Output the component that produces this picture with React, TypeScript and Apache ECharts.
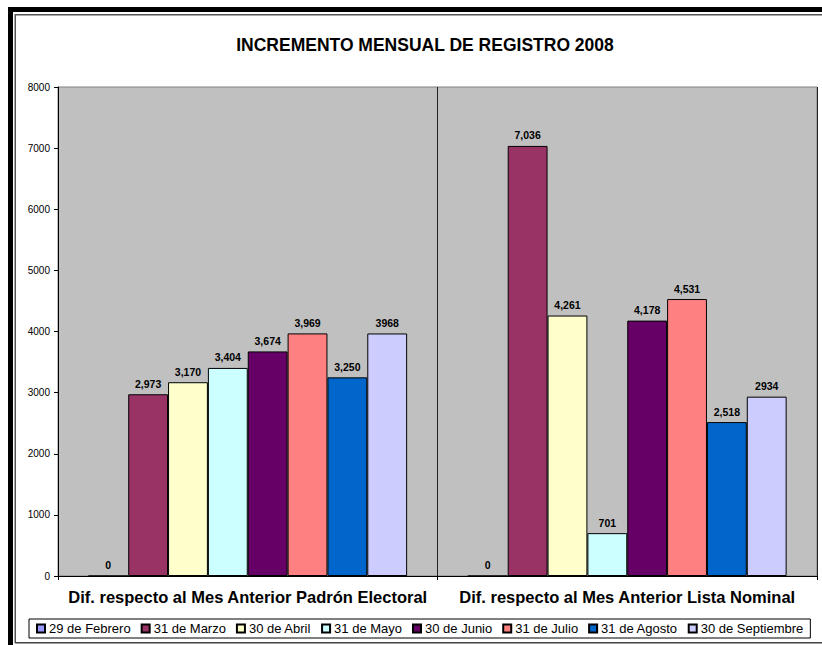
import React, { useEffect, useRef } from "react";
import * as echarts from "echarts";

const categories = [
  "Dif. respecto al Mes Anterior Padrón Electoral",
  "Dif. respecto al Mes Anterior Lista Nominal",
];
const seriesNames = [
  "29 de Febrero",
  "31 de Marzo",
  "30 de Abril",
  "31 de Mayo",
  "30 de Junio",
  "31 de Julio",
  "31 de Agosto",
  "30 de Septiembre",
];
const padronValues = [0, 2973, 3170, 3404, 3674, 3969, 3250, 3968];
const listaValues = [0, 7036, 4261, 701, 4178, 4531, 2518, 2934];
const seriesColors = ["#9999FF", "#993366", "#FFFFCC", "#CCFFFF", "#660066", "#FF8080", "#0066CC", "#CCCCFF"];
const useThousandsSep = [true, true, true, true, true, true, true, false];
const yTicks = { min: 0, max: 8000, interval: 1000 };
const titleText = "INCREMENTO MENSUAL DE REGISTRO 2008";

const FONT = 'Arial, "Liberation Sans", sans-serif';

export default function App() {
  const ref = useRef<HTMLDivElement>(null);
  useEffect(() => {
    if (!ref.current) return;
    const chart = echarts.init(ref.current, undefined, { renderer: "svg" });
    const fmt = (v: number, sep: boolean) =>
      sep ? v.toLocaleString("en-US") : String(v);
    chart.setOption({
      animation: false,
      backgroundColor: "#ffffff",
      color: seriesColors,
      title: {
        text: titleText,
        left: 420,
        textAlign: "center",
        top: 31,
        textStyle: { fontFamily: FONT, fontSize: 17.5, fontWeight: "bold", color: "#000" },
      },
      legend: {
        data: seriesNames,
        left: 29,
        top: 619,
        itemWidth: 8,
        itemHeight: 8,
        itemGap: 10,
        icon: "rect",
        padding: [3, 7, 3, 7],
        borderColor: "#000",
        borderWidth: 1,
        textStyle: { fontFamily: FONT, fontSize: 13, color: "#000", padding: [0, 0, 0, -1] },
      },
      grid: {
        left: 58,
        right: 5,
        top: 87,
        bottom: 69,
        show: true,
        backgroundColor: "#C0C0C0",
        borderColor: "#808080",
        borderWidth: 1,
        containLabel: false,
      },
      xAxis: {
        type: "category",
        data: categories,
        axisLine: { show: true, lineStyle: { color: "#000", width: 1 } },
        axisTick: { show: true, length: 4, lineStyle: { color: "#000" } },
        splitLine: { show: true, lineStyle: { color: "#222", width: 1 } },
        axisLabel: {
          fontFamily: FONT,
          fontSize: 16.5,
          fontWeight: "bold",
          color: "#000",
          margin: 12,
          interval: 0,
        },
      },
      yAxis: {
        type: "value",
        min: yTicks.min,
        max: yTicks.max,
        interval: yTicks.interval,
        axisLine: { show: true, lineStyle: { color: "#000", width: 1 } },
        axisTick: { show: true, length: 4, lineStyle: { color: "#000" } },
        splitLine: { show: false },
        axisLabel: {
          fontFamily: FONT,
          fontSize: 10,
          color: "#000",
          margin: 8,
          formatter: (v: number) => String(v),
        },
      },
      series: seriesNames.map((name, i) => ({
        name,
        type: "bar",
        data: [padronValues[i], listaValues[i]],
        barGap: "0%",
        barCategoryGap: "16%",
        itemStyle: { color: seriesColors[i], borderColor: "#000", borderWidth: 1 },
        label: {
          show: true,
          position: "top",
          distance: 5,
          fontFamily: FONT,
          fontSize: 10.5,
          fontWeight: "bold",
          color: "#000",
          formatter: (p: any) => fmt(p.value, useThousandsSep[i]),
        },
      })),
      graphic: [
        { type: "rect", shape: { x: 8, y: 7, width: 814, height: 5 }, style: { fill: "#000" }, silent: true },
        { type: "rect", shape: { x: 8, y: 7, width: 5, height: 638 }, style: { fill: "#000" }, silent: true },
        { type: "line", shape: { x1: 15, y1: 14.75, x2: 822, y2: 14.75 }, style: { stroke: "#555", lineWidth: 1.5 }, silent: true },
        { type: "line", shape: { x1: 15.25, y1: 14, x2: 15.25, y2: 643 }, style: { stroke: "#555", lineWidth: 1.5 }, silent: true },
        { type: "line", shape: { x1: 15, y1: 642.75, x2: 822, y2: 642.75 }, style: { stroke: "#444", lineWidth: 1.5 }, silent: true },
      ],
    });
    return () => chart.dispose();
  }, []);
  return (
    <div
      ref={ref}
      style={{ position: "absolute", left: 0, top: 0, width: 822, height: 645 }}
    />
  );
}
